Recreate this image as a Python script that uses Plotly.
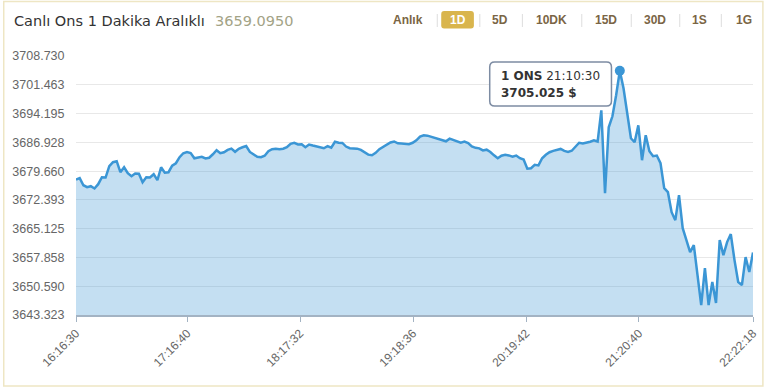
import plotly.graph_objects as go
import pandas as pd

# ---------------- data ----------------
prices = [
    3677.50, 3677.88, 3676.11, 3675.61, 3675.86, 3675.28, 3676.37, 3678.13, 3678.05, 3680.91,
    3681.92, 3682.17, 3679.39, 3680.65, 3679.14, 3678.38, 3679.07, 3679.01, 3676.87, 3678.13,
    3678.05, 3678.89, 3677.37, 3680.65, 3679.27, 3679.39, 3681.03, 3681.66, 3683.18, 3684.19,
    3684.49, 3684.24, 3682.92, 3683.18, 3683.30, 3682.87, 3683.05, 3683.93, 3684.94, 3684.19,
    3684.44, 3685.04, 3685.37, 3684.56, 3685.32, 3685.70, 3686.00, 3684.51, 3683.86, 3683.30,
    3683.18, 3683.56, 3684.69, 3685.19, 3685.32, 3685.19, 3685.32, 3685.70, 3686.58, 3686.83,
    3686.41, 3686.46, 3685.70, 3686.38, 3686.13, 3685.90, 3685.57, 3685.45, 3685.98, 3685.57,
    3687.09, 3686.83, 3686.78, 3685.88, 3685.45, 3685.37, 3685.35, 3685.02, 3684.49, 3683.83,
    3683.68, 3684.29, 3685.22, 3685.78, 3686.36, 3686.91, 3687.16, 3686.68, 3686.63, 3686.51,
    3686.46, 3686.83, 3687.46, 3688.40, 3688.73, 3688.63, 3688.37, 3688.05, 3687.92, 3687.59,
    3687.21, 3687.87, 3687.54, 3687.21, 3686.86, 3687.11, 3686.78, 3685.93, 3685.55, 3685.42,
    3684.89, 3685.09, 3684.51, 3683.66, 3682.92, 3683.56, 3683.78, 3683.63, 3683.30, 3683.61,
    3682.92, 3682.60, 3680.30, 3680.40, 3681.26, 3681.11, 3682.92, 3683.81, 3684.44, 3684.79,
    3685.09, 3685.27, 3684.77, 3684.49, 3684.82, 3685.80, 3686.83, 3686.63, 3686.81, 3687.09,
    3687.46, 3687.14, 3695.03, 3674.10, 3690.74, 3693.52, 3698.82, 3705.025, 3700.58, 3694.02,
    3687.97, 3686.96, 3691.25, 3682.42, 3688.73, 3684.69, 3683.43, 3683.60, 3681.66, 3675.36,
    3674.35, 3669.30, 3667.28, 3673.59, 3665.27, 3662.24, 3659.21, 3660.98, 3653.41, 3645.84,
    3655.18, 3645.84, 3651.65, 3646.35, 3662.24, 3658.46, 3661.74, 3663.75, 3657.19, 3651.65,
    3650.89, 3657.95, 3654.17, 3659.095,
]

x_tick_labels = ["16:16:30", "17:16:40", "18:17:32", "19:18:36", "20:19:42", "21:20:40", "22:22:18"]
y_tick_values = [3643.323, 3650.590, 3657.858, 3665.125, 3672.393,
                 3679.660, 3686.928, 3694.195, 3701.463, 3708.730]

title_text = "Canlı Ons 1 Dakika Aralıklı"
last_price_text = "3659.0950"
range_buttons = ["Anlık", "1D", "5D", "10DK", "15D", "30D", "1S", "1G"]
active_button = "1D"
tooltip_name = "1 ONS"
tooltip_time = "21:10:30"
tooltip_value = 3705.025

DAY = "2025-09-22 "
times = pd.date_range(DAY + x_tick_labels[0], DAY + x_tick_labels[-1], periods=len(prices))
peak_i = max(range(len(prices)), key=lambda i: prices[i])

# ---------------- geometry helpers ----------------
W, H = 772, 389
L, R, T, B = 76, 12, 56, 74
PW, PH = W - L - R, H - T - B


def fx(px):
    return (px - L) / PW


def fy(py):
    return (H - B - py) / PH


def rrect_path(x0, y0, x1, y1, r):
    X0, X1 = fx(x0), fx(x1)
    Y0, Y1 = fy(y0), fy(y1)
    rx, ry = r / PW, r / PH
    return (f"M {X0+rx},{Y0} L {X1-rx},{Y0} Q {X1},{Y0} {X1},{Y0-ry} "
            f"L {X1},{Y1+ry} Q {X1},{Y1} {X1-rx},{Y1} L {X0+rx},{Y1} "
            f"Q {X0},{Y1} {X0},{Y1+ry} L {X0},{Y0-ry} Q {X0},{Y0} {X0+rx},{Y0} Z")


LINE = "#3b96d5"

fig = go.Figure()
fig.add_trace(go.Scatter(
    x=times, y=prices, mode="lines",
    line=dict(color=LINE, width=2.5),
    fill="tozeroy", fillcolor="rgba(59,150,213,0.30)",
    hoverinfo="skip", showlegend=False,
))
fig.add_trace(go.Scatter(
    x=[times[peak_i]], y=[prices[peak_i]], mode="markers",
    marker=dict(color=LINE, size=10),
    hoverinfo="skip", showlegend=False,
))

shapes = []
annotations = []

# page border
shapes.append(dict(type="rect", xref="paper", yref="paper",
                   x0=fx(3), x1=fx(770), y0=fy(386), y1=fy(1.5),
                   line=dict(color="#eee6c4", width=1.5), layer="below"))

# title
annotations.append(dict(xref="paper", yref="paper", x=fx(11), y=fy(21),
                        xanchor="left", yanchor="middle", showarrow=False,
                        text=title_text,
                        font=dict(family="DejaVu Sans", size=14.5, color="#333333")))
annotations.append(dict(xref="paper", yref="paper", x=fx(214), y=fy(21),
                        xanchor="left", yanchor="middle", showarrow=False,
                        text=last_price_text,
                        font=dict(family="DejaVu Sans", size=14.5, color="#a3a386")))

# range buttons
btn_centers = [411.5, 462, 504.5, 556.5, 611, 660.5, 706, 750.5]
seps = [441, 484, 527, 587, 637, 686, 728]
for name, cx in zip(range_buttons, btn_centers):
    active = name == active_button
    if active:
        shapes.append(dict(type="path", xref="paper", yref="paper",
                           path=rrect_path(445, 11, 478, 28.5, 3),
                           fillcolor="#d9b54d", line=dict(width=0)))
    annotations.append(dict(xref="paper", yref="paper", x=fx(cx), y=fy(20.5),
                            xanchor="center", yanchor="middle", showarrow=False,
                            text=f"<b>{name}</b>",
                            font=dict(family="Liberation Sans", size=12,
                                      color="#ffffff" if active else "#7a6545")))
for sx in seps:
    shapes.append(dict(type="line", xref="paper", yref="paper",
                       x0=fx(sx), x1=fx(sx), y0=fy(14), y1=fy(27),
                       line=dict(color="#dddddd", width=1)))

# tooltip
shapes.append(dict(type="path", xref="paper", yref="paper",
                   path=rrect_path(494, 62, 617, 106, 5),
                   fillcolor="rgba(255,255,255,0.95)", line=dict(color="#7d8ca3", width=1.5)))
annotations.append(dict(xref="paper", yref="paper", x=fx(503), y=fy(76),
                        xanchor="left", yanchor="middle", showarrow=False,
                        text=f"<b>{tooltip_name}</b> {tooltip_time}",
                        font=dict(family="DejaVu Sans", size=12, color="#333333")))
annotations.append(dict(xref="paper", yref="paper", x=fx(503), y=fy(93),
                        xanchor="left", yanchor="middle", showarrow=False,
                        text=f"<b>{tooltip_value:.3f} $</b>",
                        font=dict(family="DejaVu Sans", size=12, color="#333333")))

fig.update_layout(
    width=W, height=H,
    margin=dict(l=L, r=R, t=T, b=B),
    paper_bgcolor="white", plot_bgcolor="white",
    shapes=shapes, annotations=annotations,
    showlegend=False,
    hovermode=False,
    xaxis=dict(
        type="date",
        range=[DAY + x_tick_labels[0], DAY + x_tick_labels[-1]],
        tickvals=[DAY + t for t in x_tick_labels],
        ticktext=x_tick_labels,
        tickangle=-45,
        ticks="outside", ticklen=5, tickcolor="#a3b3c3",
        showline=True, linecolor="#a3b3c3", linewidth=1.5,
        showgrid=False, zeroline=False,
        tickfont=dict(family="Liberation Sans", size=12, color="#666666"),
    ),
    yaxis=dict(
        range=[y_tick_values[0], y_tick_values[-1] + 0.02],
        tickvals=y_tick_values,
        ticktext=[f"{v:.3f}" for v in y_tick_values],
        ticks="outside", ticklen=8, tickcolor="rgba(0,0,0,0)",
        showgrid=True, gridcolor="#e8e8e8", gridwidth=1,
        zeroline=False, showline=False,
        tickfont=dict(family="Liberation Sans", size=12.5, color="#666666"),
    ),
)

post = (
    "document.documentElement.style.margin='0';"
    "document.documentElement.style.padding='0';"
    "document.documentElement.style.overflow='hidden';"
    "document.body.style.margin='0';"
    "document.body.style.padding='0';"
    "document.body.style.overflow='hidden';"
    "var d=document.getElementById('{plot_id}');"
    "d.style.position='fixed';d.style.left='0px';d.style.top='0px';"
)
fig.write_html("out.html", config={"displayModeBar": False}, post_script=post)
